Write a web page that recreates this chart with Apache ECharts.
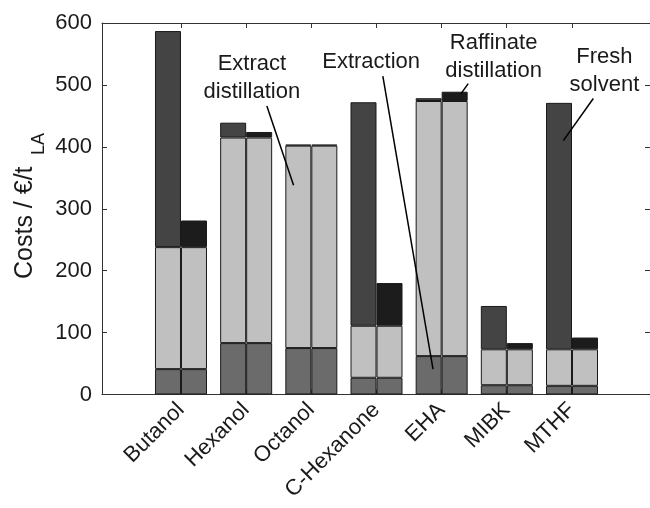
<!DOCTYPE html>
<html>
<head>
<meta charset="utf-8">
<script src="https://cdn.jsdelivr.net/npm/echarts@6/dist/echarts.min.js"></script>
<style>
  html, body { margin: 0; padding: 0; background: #fff; }
  #chart { width: 650px; height: 508px; }
</style>
</head>
<body>
<div id="chart"></div>
<script>
// solvents (one group of two bars each)
const categories = ['Butanol', 'Hexanol', 'Octanol', 'C-Hexanone', 'EHA', 'MIBK', 'MTHF'];
// cost parts, €/t LA (same extraction / extract distillation in both bars)
const extraction = [41, 83, 75, 27, 62, 15, 14];
const extractDistillation = [197, 332, 327, 84, 412, 58, 59];
// left bar: solvent bought fresh
const freshSolvent = [349, 24, 1.5, 361, 4.5, 70, 398];
// right bar: solvent recovered by raffinate distillation
const raffinateDistillation = [43, 9, 1.5, 69, 15, 10, 19];

// annotations: text position and pointer line, in data coordinates
const annotations = [
  {text: 'Extract\ndistillation', at: [2.09, 512], line: [[2.32, 466], [2.73, 338]]},
  {text: 'Extraction', at: [3.92, 537], line: [[4.10, 514], [4.87, 41]]},
  {text: 'Raffinate\ndistillation', at: [5.80, 545], line: [[5.41, 502], [5.30, 486]]},
  {text: 'Fresh\nsolvent', at: [7.50, 523], line: [[7.33, 478], [6.87, 410]]}
];

const FONT = '"Liberation Sans", Arial, Helvetica, sans-serif';
const AXIS_COLOR = '#333333';
const TEXT_COLOR = '#1a1a1a';

const colors = {
  extraction: '#6b6b6b',
  extract: '#c0c0c0',
  raffinate: '#1c1c1c',
  fresh: '#444444'
};

const xPos = categories.map((c, i) => i + 1);
// x range of the axes box (groups sit at 1..7)
const X_MIN = -0.21;
const X_MAX = 8.2;
const Y_MAX = 600;

function barSeries(name, stack, vals, color) {
  return {
    name: name,
    type: 'bar',
    stack: stack,
    xAxisIndex: 1,
    yAxisIndex: 2,
    barWidth: 26,
    barGap: '0%',
    itemStyle: {color: color, borderColor: '#1a1a1a', borderWidth: 1},
    emphasis: {disabled: true},
    data: vals
  };
}

const chart = echarts.init(document.getElementById('chart'), null, {renderer: 'canvas'});

const lineStyle = {color: AXIS_COLOR, width: 1};
const tickStyle = {show: true, inside: true, length: 5, lineStyle: {color: AXIS_COLOR}};

const option = {
  animation: false,
  backgroundColor: '#fff',
  grid: [
    // axes box
    {left: 102, right: 0, top: 23, bottom: 113.5, outerBoundsMode: 'none'},
    // bar area: one band per solvent
    {left: 148.4, right: 45.4, top: 23, bottom: 113.5, outerBoundsMode: 'none'},
    // strip above the box: its bottom axis is the top edge of the box
    {left: 102, right: 0, top: 0, bottom: 485, outerBoundsMode: 'none'}
  ],
  xAxis: [
    {
      type: 'value',
      gridIndex: 0,
      position: 'bottom',
      min: X_MIN,
      max: X_MAX,
      splitLine: {show: false},
      axisLine: {show: true, onZero: false, lineStyle: lineStyle},
      axisTick: Object.assign({customValues: xPos}, tickStyle),
      axisLabel: {
        show: true,
        customValues: xPos,
        rotate: 45,
        margin: 12,
        fontSize: 22,
        fontFamily: FONT,
        color: TEXT_COLOR,
        formatter: (v) => categories[Math.round(v) - 1] || ''
      }
    },
    {
      type: 'category',
      gridIndex: 1,
      data: categories,
      show: false
    },
    {
      type: 'value',
      gridIndex: 2,
      position: 'bottom',
      min: X_MIN,
      max: X_MAX,
      splitLine: {show: false},
      axisLine: {show: true, onZero: false, lineStyle: lineStyle},
      axisTick: {show: true, inside: false, length: 5, customValues: xPos, lineStyle: {color: AXIS_COLOR}},
      axisLabel: {show: false}
    }
  ],
  yAxis: [
    {
      type: 'value',
      gridIndex: 0,
      position: 'left',
      min: 0,
      max: Y_MAX,
      interval: 100,
      splitLine: {show: false},
      axisLine: {show: true, onZero: false, lineStyle: lineStyle},
      axisTick: tickStyle,
      axisLabel: {fontSize: 22, fontFamily: FONT, color: TEXT_COLOR, margin: 10}
    },
    {
      type: 'value',
      gridIndex: 0,
      position: 'right',
      min: 0,
      max: Y_MAX,
      interval: 100,
      splitLine: {show: false},
      axisLine: {show: true, onZero: false, lineStyle: lineStyle},
      axisTick: tickStyle,
      axisLabel: {show: false}
    },
    {
      type: 'value',
      gridIndex: 1,
      min: 0,
      max: Y_MAX,
      show: false
    },
    {
      type: 'value',
      gridIndex: 2,
      min: 0,
      max: 1,
      show: false
    }
  ],
  series: [
    // left bar
    barSeries('Extraction', 'fresh', extraction, colors.extraction),
    barSeries('Extract distillation', 'fresh', extractDistillation, colors.extract),
    barSeries('Fresh solvent', 'fresh', freshSolvent, colors.fresh),
    // right bar
    barSeries('Extraction', 'recycle', extraction, colors.extraction),
    barSeries('Extract distillation', 'recycle', extractDistillation, colors.extract),
    barSeries('Raffinate distillation', 'recycle', raffinateDistillation, colors.raffinate)
  ]
};

chart.setOption(option);

// y axis title and annotations placed through the chart's own scales
const toPx = (p) => chart.convertToPixel({xAxisIndex: 0, yAxisIndex: 0}, p);
const graphics = [
  {
    type: 'text',
    x: 25, y: 279,
    rotation: Math.PI / 2,
    style: {text: 'Costs / €/t', font: '25px ' + FONT, fill: TEXT_COLOR, textAlign: 'left', textVerticalAlign: 'middle'}
  },
  {
    type: 'text',
    x: 39, y: 155,
    rotation: Math.PI / 2,
    style: {text: 'LA', font: '18px ' + FONT, fill: TEXT_COLOR, textAlign: 'left', textVerticalAlign: 'middle'}
  }
];

annotations.forEach((a) => {
  const c = toPx(a.at);
  graphics.push({
    type: 'text',
    x: c[0], y: c[1],
    z: 10,
    style: {text: a.text, font: '22px ' + FONT, fill: TEXT_COLOR, textAlign: 'center', textVerticalAlign: 'middle', lineHeight: 28}
  });
  const p1 = toPx(a.line[0]);
  const p2 = toPx(a.line[1]);
  graphics.push({
    type: 'line',
    z: 10,
    shape: {x1: p1[0], y1: p1[1], x2: p2[0], y2: p2[1]},
    style: {stroke: '#000', lineWidth: 1.5}
  });
});
chart.setOption({graphic: graphics});
</script>
</body>
</html>
